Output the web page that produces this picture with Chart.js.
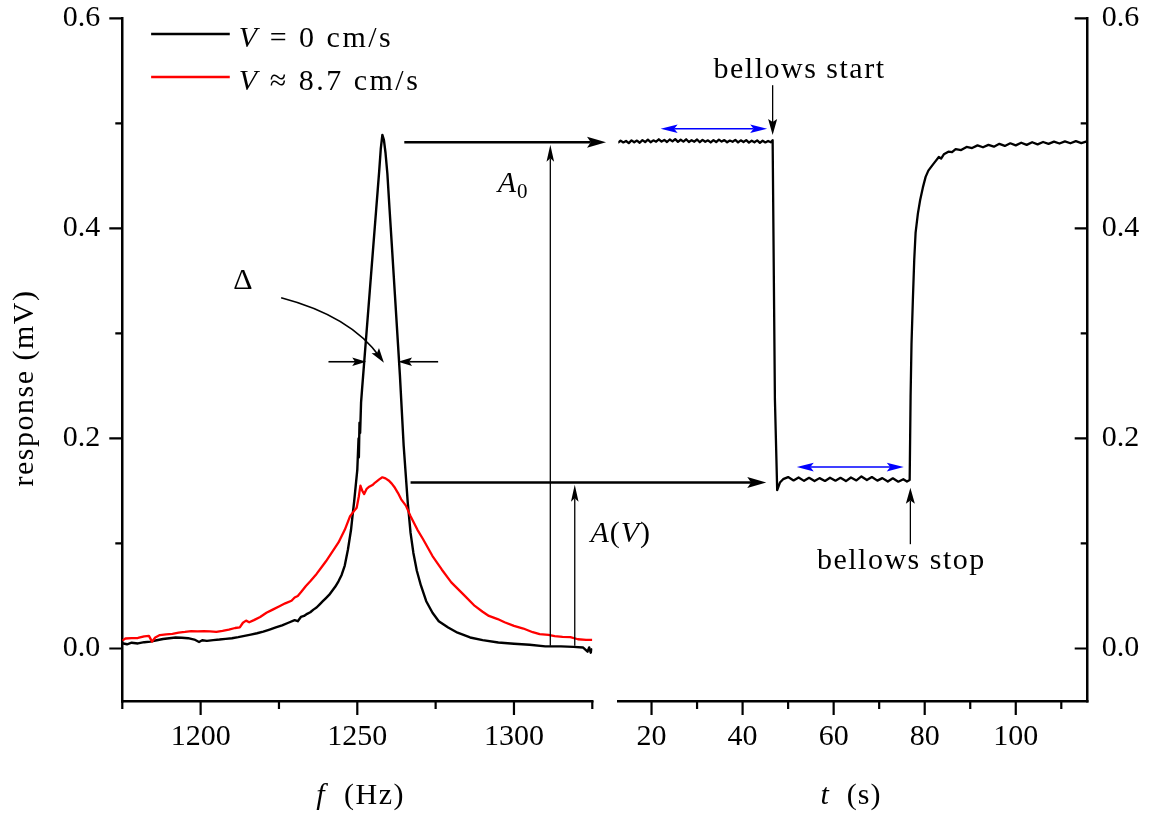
<!DOCTYPE html>
<html>
<head>
<meta charset="utf-8">
<title>Resonance response and bellows test</title>
<script src="https://cdn.jsdelivr.net/npm/chart.js@4.4.1/dist/chart.umd.min.js"></script>
<style>
  html, body { margin: 0; padding: 0; background: #fff; }
  #wrap { position: relative; width: 1170px; height: 818px; }
  #wrap canvas { position: absolute; left: 0; top: 0; }
</style>
</head>
<body>
<div id="wrap">
  <canvas id="freqChart" width="1170" height="818"></canvas>
  <canvas id="timeChart" width="1170" height="818"></canvas>
</div>
<script>
//-------------
//- DATA -
//-------------
// frequency sweep, V = 0 cm/s (black)
var freqV0 = [1175, 1176.5, 1178, 1180, 1182, 1184, 1186, 1188, 1190, 1192,
    1194, 1196, 1198, 1199.5, 1200.5, 1202, 1204, 1206, 1208, 1210,
    1212, 1214, 1216, 1218, 1220, 1222, 1224, 1226, 1228, 1230,
    1231, 1232, 1233, 1234, 1235, 1236, 1237, 1238, 1239, 1240,
    1241, 1242, 1243, 1244, 1245, 1246, 1247, 1248, 1248.5, 1249,
    1249.5, 1250, 1250.4, 1250.5, 1250.7, 1250.9, 1251.2, 1251.5, 1252, 1253,
    1254, 1255, 1256, 1256.5, 1257, 1257.5, 1258, 1258.5, 1259, 1259.6,
    1260.3, 1261, 1262, 1263, 1263.6, 1264.8, 1266.1, 1267, 1267.9, 1269,
    1270.3, 1272, 1274, 1276, 1279, 1282, 1286, 1290, 1295, 1300,
    1305, 1310, 1315, 1319, 1322, 1323.5, 1324, 1324.5, 1325];
var respV0 = [0.005, 0.004, 0.0055, 0.0048, 0.006, 0.0065, 0.0078, 0.009, 0.0098, 0.0105,
    0.0102, 0.0098, 0.0085, 0.0062, 0.0078, 0.0072, 0.008, 0.0085, 0.0092, 0.0098,
    0.0108, 0.012, 0.0132, 0.0145, 0.016, 0.018, 0.020, 0.022, 0.0245, 0.027,
    0.026, 0.030, 0.031, 0.033, 0.0345, 0.037, 0.039, 0.042, 0.045, 0.048,
    0.051, 0.055, 0.059, 0.064, 0.070, 0.079, 0.094, 0.113, 0.127, 0.140,
    0.155, 0.170, 0.200, 0.182, 0.215, 0.205, 0.234, 0.246, 0.265, 0.303,
    0.341, 0.379, 0.417, 0.436, 0.455, 0.476, 0.489, 0.484, 0.472, 0.452,
    0.418, 0.385, 0.337, 0.289, 0.260, 0.193, 0.139, 0.110, 0.091, 0.074,
    0.060, 0.045, 0.034, 0.026, 0.020, 0.015, 0.0105, 0.008, 0.0057, 0.0045,
    0.0035, 0.002, 0.002, 0.0015, 0.001, -0.003, 0.001, -0.004, 0.0];

// frequency sweep, V ~ 8.7 cm/s (red)
var freqV87 = [1175, 1176, 1178, 1180, 1182, 1183.5, 1184.5, 1185.5, 1187, 1189,
    1191, 1193, 1195, 1197, 1199, 1201, 1203, 1205, 1207, 1209,
    1211, 1212.5, 1213.5, 1214.5, 1215.5, 1217, 1219, 1221, 1223, 1225,
    1227, 1229, 1230, 1231, 1232, 1233.6, 1235, 1237, 1239, 1240,
    1242, 1244, 1246, 1247.7, 1249, 1249.8, 1250.5, 1251, 1251.6, 1252.2,
    1253, 1253.8, 1255, 1255.7, 1257, 1258, 1259, 1260, 1261, 1262,
    1263, 1264, 1265.5, 1267, 1269.2, 1271, 1274, 1277, 1280, 1284,
    1287.5, 1290, 1292, 1294.8, 1297, 1300, 1303, 1306, 1308.2, 1311,
    1313, 1315.5, 1318, 1320.4, 1323, 1325];
var respV87 = [0.0075, 0.0095, 0.0098, 0.0100, 0.0115, 0.0120, 0.0065, 0.0105, 0.0128, 0.0135,
    0.0140, 0.0152, 0.0158, 0.0166, 0.0162, 0.0165, 0.0163, 0.0158, 0.0168, 0.0180,
    0.0195, 0.0200, 0.0245, 0.0265, 0.0250, 0.0270, 0.0300, 0.0340, 0.0370, 0.0400,
    0.0430, 0.0455, 0.0485, 0.0500, 0.0535, 0.0595, 0.0640, 0.0710, 0.0790, 0.0830,
    0.0920, 0.1010, 0.1130, 0.1260, 0.1310, 0.1340, 0.1450, 0.1550, 0.1500, 0.1470,
    0.1520, 0.1540, 0.1560, 0.1580, 0.1610, 0.1630, 0.1620, 0.1600, 0.1570, 0.1530,
    0.1480, 0.1420, 0.1360, 0.1260, 0.1130, 0.1040, 0.0880, 0.0750, 0.0630, 0.0510,
    0.0405, 0.0350, 0.0310, 0.0280, 0.0250, 0.0215, 0.0190, 0.0155, 0.0136, 0.0130,
    0.0118, 0.0110, 0.0108, 0.0088, 0.0082, 0.0082];

// time trace at resonance, bellows on / off
var timeS = [12.6, 13.2, 13.8, 14.4, 15.0, 15.6, 16.2, 16.8, 17.4, 18.0,
    18.6, 19.2, 19.8, 20.4, 21.0, 21.6, 22.2, 22.8, 23.4, 24.0,
    24.6, 25.2, 25.8, 26.4, 27.0, 27.6, 28.2, 28.8, 29.4, 30.0,
    30.6, 31.2, 31.8, 32.4, 33.0, 33.6, 34.2, 34.8, 35.4, 36.0,
    36.6, 37.2, 37.8, 38.4, 39.0, 39.6, 40.2, 40.8, 41.4, 42.0,
    42.6, 43.2, 43.8, 44.4, 45.0, 45.6, 46.2, 46.6,
    47.1, 47.6, 48.2,
    48.9, 50.0, 51.2, 52.3, 53.5, 54.6, 55.8, 56.9, 58.1, 59.2,
    60.4, 61.5, 62.7, 63.8, 65.0, 66.1, 67.3, 68.4, 69.6, 70.7,
    71.9, 73.0, 74.2, 75.3, 76.1, 76.7,
    76.9, 77.1, 77.4, 77.7, 78.0, 78.5, 79.0, 79.6, 80.2, 80.8,
    81.5, 82.3, 83.1, 83.6, 84.2, 85.2, 86.0, 86.8, 88.0, 89.2,
    90.4, 91.6, 92.8, 94.0, 95.2, 96.4, 97.6, 98.8, 100.0, 101.2,
    102.4, 103.6, 104.8, 106.0, 107.2, 108.4, 109.6, 110.8, 112.0, 113.2,
    114.4, 115.6, 115.8];
var respT = [0.4815, 0.4835, 0.4818, 0.4832, 0.4812, 0.4838, 0.4820, 0.4836, 0.4815, 0.4840,
    0.4822, 0.4845, 0.4820, 0.4838, 0.4825, 0.4848, 0.4826, 0.4842, 0.4822, 0.4846,
    0.4828, 0.4850, 0.4824, 0.4844, 0.4826, 0.4848, 0.4822, 0.4840, 0.4825, 0.4846,
    0.4820, 0.4842, 0.4824, 0.4838, 0.4818, 0.4840, 0.4822, 0.4845, 0.4826, 0.4840,
    0.4820, 0.4836, 0.4824, 0.4842, 0.4818, 0.4838, 0.4822, 0.4840, 0.4816, 0.4835,
    0.4820, 0.4838, 0.4814, 0.4834, 0.4818, 0.4832, 0.4820, 0.4840,
    0.237, 0.1508, 0.158,
    0.1612, 0.1632, 0.1600, 0.1628, 0.1596, 0.1625, 0.1594, 0.1622, 0.1595, 0.1626,
    0.1598, 0.1625, 0.1594, 0.1628, 0.1600, 0.1638, 0.1604, 0.1632, 0.1598, 0.1622,
    0.1590, 0.1620, 0.1588, 0.1612, 0.1590, 0.1605,
    0.240, 0.290, 0.332, 0.370, 0.396, 0.414, 0.427, 0.439, 0.449, 0.455,
    0.459, 0.4635, 0.468, 0.4665, 0.4705, 0.473, 0.4725, 0.4755, 0.4745, 0.4775,
    0.4765, 0.4790, 0.4772, 0.4795, 0.4778, 0.4805, 0.4785, 0.4810, 0.4790, 0.4815,
    0.4795, 0.4820, 0.4800, 0.4822, 0.4805, 0.4826, 0.4808, 0.4828, 0.4810, 0.4830,
    0.4812, 0.4828, 0.4825];

// ticks
var freqTicks = [1175, 1200, 1225, 1250, 1275, 1300, 1325];
var freqLabels = [1200, 1250, 1300];
var timeTicks = [20, 30, 40, 50, 60, 70, 80, 90, 100, 110];
var timeLabels = [20, 40, 60, 80, 100];
var respTicks = [0, 0.1, 0.2, 0.3, 0.4, 0.5, 0.6];
var respLabels = [0, 0.2, 0.4, 0.6];

var serif = '"Liberation Serif", "Times New Roman", serif';

function points(xs, ys) {
    return xs.map(function(x, i) { return {x: x, y: ys[i]}; });
}

//-------------
//- HELPERS -
//-------------
function arrowHead(ctx, x, y, ang, len, half) {
    ctx.save();
    ctx.translate(x, y);
    ctx.rotate(ang);
    ctx.beginPath();
    ctx.moveTo(0, 0);
    ctx.lineTo(-len, -half);
    ctx.lineTo(-len * 0.8, 0);
    ctx.lineTo(-len, half);
    ctx.closePath();
    ctx.fill();
    ctx.restore();
}

function arrow(ctx, x1, y1, x2, y2, o) {
    var ang = Math.atan2(y2 - y1, x2 - x1);
    var back = o.double ? o.len * 0.8 : 0;
    ctx.strokeStyle = o.color;
    ctx.fillStyle = o.color;
    ctx.lineWidth = o.width;
    ctx.beginPath();
    ctx.moveTo(x1 + Math.cos(ang) * back, y1 + Math.sin(ang) * back);
    ctx.lineTo(x2 - Math.cos(ang) * o.len * 0.8, y2 - Math.sin(ang) * o.len * 0.8);
    ctx.stroke();
    arrowHead(ctx, x2, y2, ang, o.len, o.half);
    if (o.double) {
        arrowHead(ctx, x1, y1, ang + Math.PI, o.len, o.half);
    }
}

function partFont(p) {
    if (p[1] === 'i') return 'italic 30px ' + serif;
    if (p[1] === 's') return '21px ' + serif;
    return '30px ' + serif;
}

// text with italic / subscript pieces
function rich(ctx, parts, x, y, align) {
    var w = 0;
    parts.forEach(function(p) {
        ctx.font = partFont(p);
        w += ctx.measureText(p[0]).width;
    });
    var cx = align === 'center' ? x - w / 2 : x;
    ctx.textAlign = 'left';
    parts.forEach(function(p) {
        ctx.font = partFont(p);
        ctx.fillText(p[0], cx, y + (p[1] === 's' ? 6 : 0));
        cx += ctx.measureText(p[0]).width;
    });
}

function fitX(s) {
    s.height = 117;
    s.paddingLeft = 0;
    s.paddingRight = 0;
}

function fitY(width) {
    return function(s) {
        s.width = width;
        s.paddingTop = 0;
        s.paddingBottom = 0;
    };
}

// tick marks: outward on left and bottom, inward on the right axis
var tickMarks = {
    id: 'tickMarks',
    afterDraw: function(chart) {
        var ctx = chart.ctx;
        var area = chart.chartArea;
        var xs = chart.scales.x;
        var ys = chart.scales.y;
        ctx.save();
        ctx.strokeStyle = '#000';
        ctx.lineWidth = 2.2;
        ctx.beginPath();
        xs.ticks.forEach(function(t) {
            var p = xs.getPixelForValue(t.value);
            var len = t.label === '' ? 8 : 14;
            ctx.moveTo(p, area.bottom);
            ctx.lineTo(p, area.bottom + len);
        });
        ys.ticks.forEach(function(t) {
            var p = ys.getPixelForValue(t.value);
            var len = t.label === '' ? 7 : 13;
            if (ys.options.position === 'right') {
                ctx.moveTo(area.right, p);
                ctx.lineTo(area.right - len, p);
            } else {
                ctx.moveTo(area.left, p);
                ctx.lineTo(area.left - len, p);
            }
        });
        ctx.stroke();
        ctx.restore();
    }
};

function xScale(min, max, ticks, labels) {
    return {
        type: 'linear',
        min: min,
        max: max,
        grid: { display: false, drawTicks: false, lineWidth: 2.5 },
        border: { display: true, width: 2.5, color: '#000' },
        afterBuildTicks: function(s) {
            s.ticks = ticks.map(function(v) { return {value: v}; });
        },
        ticks: {
            autoSkip: false,
            maxRotation: 0,
            padding: 18,
            color: '#000',
            font: { family: serif, size: 30, lineHeight: 1.2 },
            callback: function(v) { return labels.indexOf(v) >= 0 ? String(v) : ''; }
        },
        afterFit: fitX
    };
}

function yScale(position, width, pad) {
    return {
        type: 'linear',
        position: position,
        min: -0.05,
        max: 0.6,
        grid: { display: false, drawTicks: false, lineWidth: 2.5 },
        border: { display: true, width: 2.5, color: '#000' },
        afterBuildTicks: function(s) {
            s.ticks = respTicks.map(function(v) { return {value: v}; });
        },
        ticks: {
            padding: pad,
            color: '#000',
            font: { family: serif, size: 30, lineHeight: 1.2 },
            callback: function(v) { return respLabels.indexOf(v) >= 0 ? v.toFixed(1) : ''; }
        },
        afterFit: fitY(width)
    };
}

//-------------
//- LEFT PANEL: response vs frequency -
//-------------
var freqChart = new Chart(document.getElementById('freqChart'), {
    type: 'line',
    data: {
        datasets: [{
            label: 'V \u2248 8.7 cm/s',
            data: points(freqV87, respV87),
            borderColor: '#ff0000',
            borderWidth: 2.3,
            borderJoinStyle: 'round',
            pointRadius: 0,
            tension: 0
        }, {
            label: 'V = 0 cm/s',
            data: points(freqV0, respV0),
            borderColor: '#000000',
            borderWidth: 2.4,
            borderJoinStyle: 'round',
            pointRadius: 0,
            tension: 0
        }]
    },
    options: {
        responsive: false,
        animation: false,
        devicePixelRatio: 1,
        layout: { padding: { left: 0, top: 18.3, right: 577.7, bottom: 0 } },
        plugins: { legend: { display: false }, tooltip: { enabled: false } },
        scales: {
            x: xScale(1175, 1325, freqTicks, freqLabels),
            y: yScale('left', 122.3, 22)
        }
    },
    plugins: [tickMarks]
});

//-------------
//- ANNOTATIONS (drawn on the top canvas) -
//-------------
var notes = {
    id: 'notes',
    afterDraw: function(chart) {
        var ctx = chart.ctx;
        var fx = freqChart.scales.x;
        var tx = chart.scales.x;
        var ry = chart.scales.y;
        function F(v) { return fx.getPixelForValue(v); }
        function T(v) { return tx.getPixelForValue(v); }
        function Y(v) { return ry.getPixelForValue(v); }
        var thick = { color: '#000', width: 2.6, len: 19, half: 5.5 };
        var thin = { color: '#000', width: 1.3, len: 17, half: 3.8 };
        var small = { color: '#000', width: 1.6, len: 14, half: 4.2 };
        var blue = { color: '#0000ff', width: 1.5, len: 17, half: 4.3, double: true };

        ctx.save();
        ctx.fillStyle = '#000';
        ctx.textBaseline = 'alphabetic';

        // legend
        ctx.lineWidth = 2.5;
        ctx.strokeStyle = '#000';
        ctx.beginPath();
        ctx.moveTo(F(1184.2), Y(0.585));
        ctx.lineTo(F(1209.3), Y(0.585));
        ctx.stroke();
        ctx.strokeStyle = '#ff0000';
        ctx.beginPath();
        ctx.moveTo(F(1184.2), Y(0.544));
        ctx.lineTo(F(1209.3), Y(0.544));
        ctx.stroke();
        ctx.fillStyle = '#000';
        ctx.letterSpacing = '2.5px';
        rich(ctx, [['V', 'i'], [' = 0 cm/s', '']], F(1212.2), Y(0.573), 'left');
        rich(ctx, [['V', 'i'], [' \u2248 8.7 cm/s', '']], F(1212.2), Y(0.532), 'left');
        ctx.letterSpacing = '1px';

        // A0 and A(V) transfer arrows
        arrow(ctx, F(1265), Y(0.482), T(10), Y(0.482), thick);
        arrow(ctx, F(1267), Y(0.158), T(45.2), Y(0.158), thick);
        arrow(ctx, F(1311.6), Y(0.0025), F(1311.6), Y(0.4796), thin);
        arrow(ctx, F(1319.4), Y(0.0025), F(1319.4), Y(0.156), thin);
        ctx.fillStyle = '#000';
        rich(ctx, [['A', 'i'], ['0', 's']], F(1294.8), Y(0.435), 'left');
        rich(ctx, [['A', 'i'], ['(', ''], ['V', 'i'], [')', '']], F(1324.4), Y(0.101), 'left');

        // linewidth
        ctx.font = '30px ' + serif;
        ctx.textAlign = 'left';
        ctx.fillText('\u0394', F(1210.4), Y(0.342));
        var sx = F(1225.7), sy = Y(0.334);
        var cx = F(1248), cy = Y(0.3165);
        var ex = F(1258.5), ey = Y(0.272);
        ctx.strokeStyle = '#000';
        ctx.lineWidth = 1.6;
        ctx.beginPath();
        ctx.moveTo(sx, sy);
        ctx.quadraticCurveTo(cx, cy, ex - (ex - cx) * 0.12, ey - (ey - cy) * 0.12);
        ctx.stroke();
        ctx.fillStyle = '#000';
        arrowHead(ctx, ex, ey, Math.atan2(ey - cy, ex - cx), 15, 4.5);
        arrow(ctx, F(1240.8), Y(0.273), F(1252.85), Y(0.273), small);
        arrow(ctx, F(1275.8), Y(0.273), F(1263), Y(0.273), small);

        // bellows start / stop
        arrow(ctx, T(46.6), Y(0.5363), T(46.6), Y(0.489), { color: '#000', width: 1.3, len: 16, half: 4.5 });
        arrow(ctx, T(76.85), Y(0.0993), T(76.85), Y(0.153), { color: '#000', width: 1.3, len: 16, half: 4.5 });
        ctx.fillStyle = '#000';
        ctx.font = '30px ' + serif;
        ctx.textAlign = 'center';
        ctx.letterSpacing = '1.5px';
        ctx.fillText('bellows start', T(52.5), Y(0.543));
        ctx.fillText('bellows stop', T(74.87), Y(0.0754));

        // averaging windows
        arrow(ctx, T(22.0), Y(0.4948), T(45.4), Y(0.4948), blue);
        arrow(ctx, T(51.9), Y(0.1727), T(75.4), Y(0.1727), blue);

        // axis titles
        ctx.fillStyle = '#000';
        ctx.letterSpacing = '1.5px';
        rich(ctx, [['f', 'i'], ['  (Hz)', '']], 360.6, 804, 'center');
        ctx.letterSpacing = '1px';
        rich(ctx, [['t', 'i'], ['  (s)', '']], 851, 804, 'center');
        ctx.save();
        ctx.translate(33, 388);
        ctx.rotate(-Math.PI / 2);
        ctx.letterSpacing = '1.5px';
        rich(ctx, [['response (mV)', '']], 0, 0, 'center');
        ctx.restore();

        ctx.restore();
    }
};

//-------------
//- RIGHT PANEL: response vs time -
//-------------
var timeChart = new Chart(document.getElementById('timeChart'), {
    type: 'line',
    data: {
        datasets: [{
            label: 'response',
            data: points(timeS, respT),
            borderColor: '#000000',
            borderWidth: 2.3,
            borderJoinStyle: 'round',
            pointRadius: 0,
            tension: 0
        }]
    },
    options: {
        responsive: false,
        animation: false,
        devicePixelRatio: 1,
        layout: { padding: { left: 618.3, top: 18.3, right: 0, bottom: 0 } },
        plugins: { legend: { display: false }, tooltip: { enabled: false } },
        scales: {
            x: xScale(12.7, 115.8, timeTicks, timeLabels),
            y: yScale('right', 82.3, 14)
        }
    },
    plugins: [tickMarks, notes]
});
</script>
</body>
</html>
